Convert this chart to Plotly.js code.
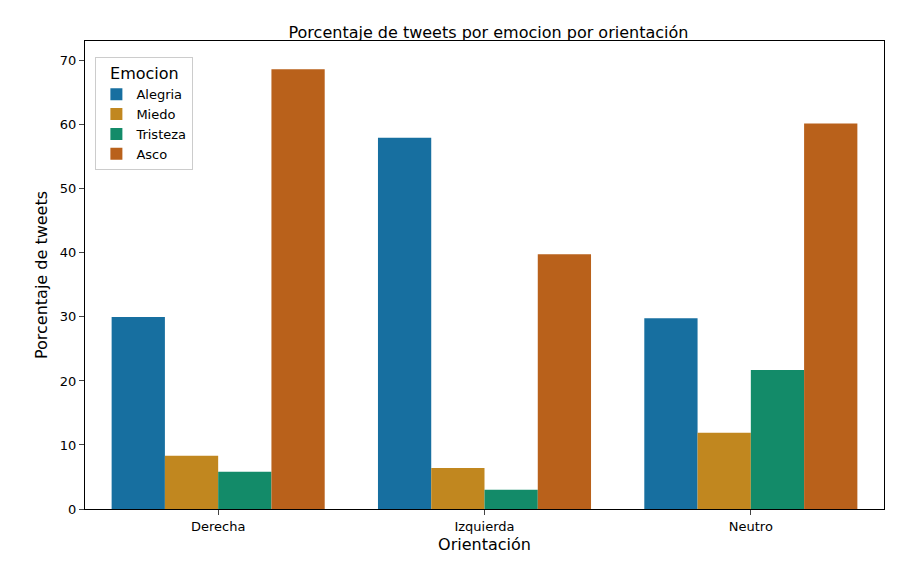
<!DOCTYPE html>
<html><head><meta charset="utf-8">
<script src="https://cdn.plot.ly/plotly-3.0.1.min.js"></script>
</head><body style="margin:0">
<div id="c" style="width:913px;height:587px"></div>
<script>
const categories = ["Derecha", "Izquierda", "Neutro"];
const emociones = ["Alegria", "Miedo", "Tristeza", "Asco"];
const alegria = [30.0, 58.0, 29.8];
const miedo = [8.3, 6.4, 11.9];
const tristeza = [5.8, 3.0, 21.7];
const asco = [68.7, 39.8, 60.2];
const colors = ["#176fa0", "#c1871f", "#138b69", "#b9611b"];
const series = [alegria, miedo, tristeza, asco];
const data = series.map((v, i) => ({
  type: "bar", name: emociones[i], x: categories, y: v,
  marker: {color: colors[i]}
}));
const font = {family: "DejaVu Sans", size: 13, color: "#000"};
Plotly.newPlot("c", data, {
  width: 913, height: 587,
  margin: {l: 85, r: 29, t: 41, b: 78},
  paper_bgcolor: "#fff", plot_bgcolor: "#fff",
  font: font,
  barmode: "group", bargap: 0.2, bargroupgap: 0,
  title: {text: "Porcentaje de tweets por emocion por orientación", font: {family: "DejaVu Sans", size: 16}, x: 0.535, xanchor: "center", y: 0.955},
  xaxis: {title: {text: "Orientación", standoff: 6}, showline: true, mirror: true, linecolor: "#000", ticks: "outside", ticklen: 5, showgrid: false},
  yaxis: {title: {text: "Porcentaje de tweets", standoff: 8}, range: [0, 73.1], dtick: 10, showline: true, mirror: true, linecolor: "#000", ticks: "outside", ticklen: 5, showgrid: false, zeroline: false},
  legend: {x: 0.013, y: 0.965, xanchor: "left", yanchor: "top", bordercolor: "#ccc", borderwidth: 1, bgcolor: "rgba(255,255,255,0.8)",
    title: {text: "Emocion", side: "top center"}, font: font, tracegroupgap: 0}
}, {displayModeBar: false});
</script>
</body></html>
